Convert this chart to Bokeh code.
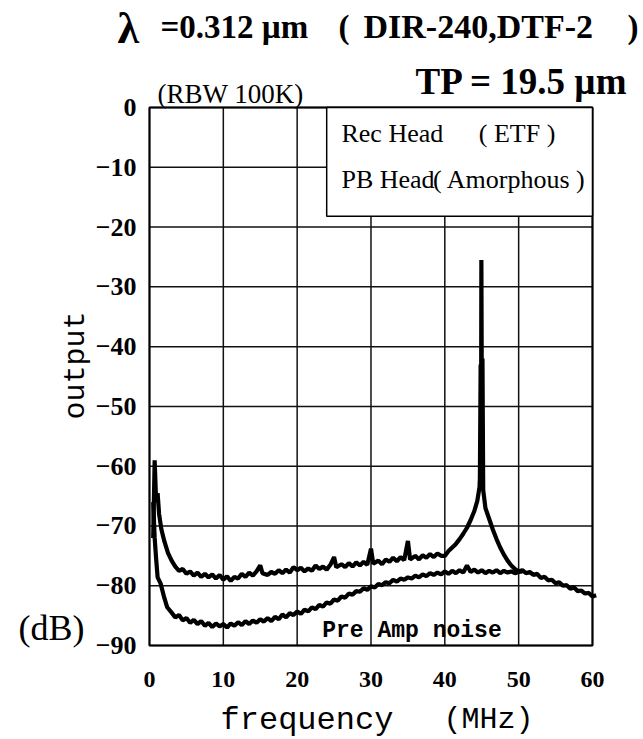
from bokeh.plotting import figure
from bokeh.models import (Range1d, FixedTicker, Label, BoxAnnotation, ColumnDataSource,
                          LinearAxis)
from bokeh.embed import file_html
from bokeh.resources import INLINE
import math

# ---------------- data ----------------
x_ticks = [0, 10, 20, 30, 40, 50, 60]
y_ticks = [-90, -80, -70, -60, -50, -40, -30, -20, -10, 0]

# upper trace (reproduced 0.312 um signal + noise)
freq_rec = [0.5, 0.7, 0.9, 1.1, 1.3, 1.6, 2.0, 2.5, 3.0, 3.5, 4.0, 4.5, 5.0, 5.5, 6.0,
            6.5, 7.0, 7.5, 8.0, 8.5, 9.0, 9.5, 10.0, 10.5, 11.0, 11.5, 12.0, 12.5, 13.0,
            13.5, 14.0, 14.5, 15.0, 15.3, 16.0, 16.5, 17.0, 17.5, 18.0, 18.5, 19.0, 19.5,
            20.0, 20.5, 21.0, 21.5, 22.0, 22.5, 23.0, 23.5, 24.0, 24.5, 25.0, 25.3, 26.0,
            26.5, 27.0, 27.5, 28.0, 28.5, 29.0, 29.5, 30.0, 30.3, 31.0, 31.5, 32.0, 32.5,
            33.0, 33.5, 34.0, 34.5, 35.0, 35.3, 36.0, 36.5, 37.0, 37.5, 38.0, 38.5, 39.0,
            39.5, 40.0, 40.5, 41.0, 41.5, 42.0, 42.5, 43.0, 43.5, 44.0, 44.4, 44.7, 44.75,
            44.85, 44.9, 44.95, 45.05, 45.1, 45.2, 45.5, 46.0, 46.5, 47.0, 47.5, 48.0,
            48.5, 49.0, 49.5, 50.0, 50.5, 51.0, 51.5, 52.0, 52.5, 53.0, 53.5, 54.0, 54.5,
            55.0, 55.5, 56.0, 56.5, 57.0, 57.5, 58.0, 58.5, 59.0, 59.5, 60.0, 60.5]
out_rec = [-72.0, -59.0, -66.0, -64.5, -68.0, -70.5, -72.5, -74.5, -75.8, -76.8, -77.5,
           -77.2, -78.0, -77.6, -78.3, -77.8, -78.5, -78.0, -78.6, -78.1, -78.8, -78.2,
           -79.0, -78.4, -79.2, -78.5, -78.8, -78.0, -78.5, -77.8, -78.3, -77.6, -76.6,
           -77.9, -78.2, -77.7, -78.0, -77.4, -77.9, -77.3, -77.8, -76.9, -77.4, -77.0,
           -77.6, -77.1, -77.5, -76.6, -77.2, -76.8, -77.3, -76.5, -75.2, -76.9, -76.4,
           -76.9, -76.2, -76.8, -76.1, -76.6, -76.0, -76.5, -73.8, -76.3, -75.8, -76.4,
           -75.6, -76.0, -75.3, -75.9, -75.2, -75.7, -72.5, -75.6, -75.0, -75.6, -74.9,
           -75.3, -74.7, -75.2, -74.6, -75.0, -75.0, -74.2, -73.6, -73.0, -72.2, -71.3,
           -70.3, -69.0, -67.5, -65.8, -63.5, -62.0, -43.0, -62.5, -25.5, -62.0, -42.0,
           -64.0, -67.0, -68.8, -70.6, -72.2, -73.6, -74.8, -75.8, -76.6, -77.2, -77.6,
           -77.4, -77.9, -77.7, -78.2, -78.0, -78.7, -78.5, -79.1, -79.0, -79.6, -79.4,
           -80.0, -79.9, -80.5, -80.3, -80.9, -80.8, -81.3, -81.2, -81.8, -81.6, -82.2]

# lower trace (pre-amp noise floor)
freq_noise = [0.5, 0.7, 0.9, 1.1, 1.5, 2.0, 2.4, 3.0, 3.5, 4.0, 4.5, 5.0, 5.5, 6.0, 6.5,
              7.0, 7.5, 8.0, 8.5, 9.0, 9.5, 10.0, 10.5, 11.0, 11.5, 12.0, 12.5, 13.0,
              13.5, 14.0, 14.5, 15.0, 15.5, 16.0, 16.5, 17.0, 17.5, 18.0, 18.5, 19.0,
              19.5, 20.0, 20.5, 21.0, 21.5, 22.0, 22.5, 23.0, 23.5, 24.0, 24.5, 25.0,
              25.5, 26.0, 26.5, 27.0, 27.5, 28.0, 28.5, 29.0, 29.5, 30.0, 30.5, 31.0,
              31.5, 32.0, 32.5, 33.0, 33.5, 34.0, 34.5, 35.0, 35.5, 36.0, 36.5, 37.0,
              37.5, 38.0, 38.5, 39.0, 39.5, 40.0, 40.5, 41.0, 41.5, 42.0, 42.5, 43.0,
              43.5, 44.0, 44.5, 45.0, 45.5, 46.0, 46.5, 47.0, 47.5, 48.0, 48.5, 49.0,
              49.5, 50.0, 50.5]
out_noise = [-66.0, -72.0, -75.5, -78.6, -79.6, -82.0, -83.6, -84.5, -85.3, -84.9, -85.8,
             -85.4, -86.2, -85.7, -86.4, -85.9, -86.7, -86.2, -86.9, -86.3, -86.8, -86.4,
             -87.0, -86.3, -86.7, -86.1, -86.6, -85.9, -86.4, -85.8, -86.2, -85.6, -86.0,
             -85.4, -85.9, -85.2, -85.6, -84.8, -85.3, -84.6, -84.9, -84.3, -84.7, -84.0,
             -84.3, -83.6, -83.9, -83.2, -83.5, -82.8, -83.0, -82.3, -82.5, -81.8, -82.0,
             -81.3, -81.5, -80.9, -81.0, -80.4, -80.7, -80.1, -80.3, -79.7, -79.9, -79.4,
             -79.6, -79.0, -79.3, -78.8, -79.0, -78.6, -78.8, -78.3, -78.6, -78.1, -78.4,
             -77.9, -78.2, -77.8, -78.1, -77.6, -78.0, -77.5, -77.9, -77.4, -77.8, -76.6,
             -77.7, -77.3, -77.8, -77.4, -77.9, -77.5, -77.8, -77.4, -77.9, -77.5, -77.8,
             -77.6, -77.9, -77.7, -77.6]

X0, X1 = x_ticks[0], x_ticks[-1]
Y0, Y1 = y_ticks[0], y_ticks[-1]

# ---------------- figure: the frame covers the whole canvas ----------------
W, H = 643, 739
p = figure(width=W, height=H, x_range=Range1d(-20.18, 66.91),
           y_range=Range1d(-105.72, 17.90), output_backend="svg",
           toolbar_location=None, x_axis_location=None, y_axis_location=None,
           min_border=0, min_border_left=0, min_border_right=0, min_border_top=0,
           min_border_bottom=0)
p.title.visible = False
p.background_fill_color = "white"
p.border_fill_color = "white"
p.outline_line_color = None
p.xgrid.visible = False
p.ygrid.visible = False

xaxis = LinearAxis(ticker=FixedTicker(ticks=x_ticks), fixed_location=Y0, bounds=(X0, X1))
yaxis = LinearAxis(ticker=FixedTicker(ticks=y_ticks), fixed_location=X0, bounds=(Y0, Y1))
p.add_layout(xaxis, "below")
p.add_layout(yaxis, "left")
for ax in (xaxis, yaxis):
    ax.axis_line_color = None
    ax.major_tick_line_color = None
    ax.minor_tick_line_color = None
    ax.major_tick_out = 0
    ax.major_tick_in = 0
    ax.minor_tick_out = 0
    ax.minor_tick_in = 0
    ax.major_label_text_font = "Liberation Serif"
    ax.major_label_text_font_style = "bold"
    ax.major_label_text_color = "black"
xaxis.major_label_text_font_size = "24px"
xaxis.major_label_standoff = 26
yaxis.major_label_text_font_size = "26px"
yaxis.major_label_standoff = 13
yaxis.major_label_text_baseline = "top"
yaxis.major_label_overrides = {t: ("0" if t == 0 else "\u2212" + str(abs(t))) for t in y_ticks}

# grid lines built from the tick lists
grid_xs = [[t, t] for t in x_ticks] + [[X0, X1] for t in y_ticks]
grid_ys = [[Y0, Y1] for t in x_ticks] + [[t, t] for t in y_ticks]
p.multi_line(grid_xs, grid_ys, line_color="#111111", line_width=1.5)

src_rec = ColumnDataSource(dict(x=freq_rec, y=out_rec))
src_noise = ColumnDataSource(dict(x=freq_noise, y=out_noise))
p.line("x", "y", source=src_noise, line_color="black", line_width=4.2)
p.line("x", "y", source=src_rec, line_color="black", line_width=4.2)

# plot box and legend-like box
p.add_layout(BoxAnnotation(left=X0, right=X1, top=Y1, bottom=Y0, fill_color=None,
                           line_color="black", line_width=2, line_alpha=1.0))
p.add_layout(BoxAnnotation(left=24.0, right=X1, top=Y1, bottom=-18.2, fill_color="white",
                           fill_alpha=1.0, line_color="black", line_width=1.5,
                           line_alpha=1.0))

def lab(text, x, y, size, font="Liberation Serif", style="normal", align="left",
        angle=0.0):
    p.add_layout(Label(x=x, y=y, text=text, text_font=font, text_font_size=size,
                       text_font_style=style, text_align=align, text_baseline="middle",
                       angle=angle, text_color="black"))

lab("Rec Head", 26.0, -4.43, "26px")
lab("( ETF )", 44.6, -4.43, "26px")
lab("PB Head", 26.0, -12.04, "26px")
lab("( Amorphous )", 38.4, -12.04, "26px")
lab("Pre Amp noise", 23.4, -87.49, "23px", font="Liberation Mono", style="bold")

lab("\u03bb", -4.33, 13.22, "44px", style="bold")
lab("=0.312 \u00b5m", 1.49, 13.55, "33px", style="bold")
lab("(", 25.60, 13.55, "33px", style="bold")
lab("DIR-240,DTF-2", 28.99, 13.55, "34px", style="bold")
lab(")", 64.74, 13.55, "33px", style="bold")
lab("TP = 19.5 \u00b5m", 64.88, 4.35, "37px", style="bold", align="right")
lab("(RBW 100K)", 1.08, 2.34, "27px")
lab("output", -10.02, -43.16, "30px", font="Liberation Mono", align="center",
    angle=math.pi / 2)
lab("(dB)", -13.27, -86.99, "36px", align="center")
lab("frequency", 9.62, -102.54, "32px", font="Liberation Mono")
lab("(MHz)", 39.82, -102.54, "30px", font="Liberation Mono")

open("out.html", "w").write(file_html(p, INLINE))
